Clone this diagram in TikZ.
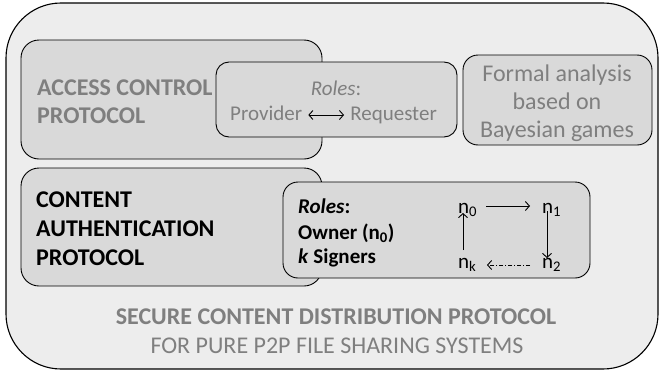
\documentclass[tikz,border=0pt]{standalone}
\usepackage{fontspec}
\setmainfont{Carlito}
\usetikzlibrary{arrows.meta}
\definecolor{outerfill}{HTML}{EDEDED}
\definecolor{innerfill}{HTML}{D9D9D9}
\definecolor{greytext}{HTML}{7F7F7F}
\begin{document}
\begin{tikzpicture}[x=1pt,y=-1pt,
  panel/.style={draw=black, line width=0.9pt, fill=innerfill, inner sep=0pt},
  lbl/.style={inner sep=0pt, anchor=base west},
  clbl/.style={inner sep=0pt, anchor=base},
  headfont/.style={font=\fontsize{24}{29}\selectfont\bfseries},
  rolefont/.style={font=\fontsize{21}{24}\selectfont},
  formalfont/.style={font=\fontsize{24}{28}\selectfont},
  footfont/.style={font=\fontsize{24}{28}\selectfont},
  footboldfont/.style={font=\fontsize{24}{28}\selectfont\bfseries},
  ownerfont/.style={font=\fontsize{21}{24}\selectfont\bfseries},
  ringfont/.style={font=\fontsize{21}{24}\selectfont},
  arr/.style={line width=0.9pt, -{Straight Barb[length=4pt,width=9pt]}},
  dblarr/.style={line width=0.9pt, {Straight Barb[length=4pt,width=9pt]}-{Straight Barb[length=4pt,width=9pt]}},
]
\useasboundingbox (0,0) rectangle (660,372);

% outer frame: the whole distribution protocol (true circular corners)
\draw[line width=1.1pt, fill=outerfill]
  (6,58) arc[start angle=180, end angle=270, radius=55]
  -- (603,3) arc[start angle=270, end angle=360, radius=55]
  -- (658,314) arc[start angle=0, end angle=90, radius=55]
  -- (61,369) arc[start angle=90, end angle=180, radius=55]
  -- cycle;

% access control protocol
\node[panel, rounded corners=18pt, minimum width=301pt, minimum height=119pt] (access) at (171.5,99.5) {};
\node[lbl, headfont, text=greytext] (acc1) at (37,95) {ACCESS CONTROL};
\node[lbl, headfont, text=greytext] (acc2) at (37,123) {PROTOCOL};

% roles of the access control protocol
\node[panel, rounded corners=13pt, minimum width=241pt, minimum height=75pt] (rolesA) at (336.5,99.5) {};
\node[clbl, rolefont, text=greytext] (rolesAhead) at (336,95) {\textit{Roles}:};
\node[lbl, rolefont, text=greytext] (prov) at (230,120) {Provider};
\node[anchor=base east, inner sep=0pt, rolefont, text=greytext] (req) at (437,120) {Requester};
\draw[dblarr] ([shift={(6pt,5pt)}]prov.base east) -- ([shift={(-6pt,5pt)}]req.base west);

% formal analysis
\node[panel, rounded corners=15pt, minimum width=189pt, minimum height=90pt] (formal) at (557.5,100) {};
\node[clbl, formalfont, text=greytext] (f1) at (557,81) {Formal analysis};
\node[clbl, formalfont, text=greytext] (f2) at (557,109) {based on};
\node[clbl, formalfont, text=greytext] (f3) at (557,137) {Bayesian games};

% content authentication protocol
\node[panel, rounded corners=18pt, minimum width=301pt, minimum height=118pt] (content) at (171.5,227) {};
\node[lbl, headfont] (con1) at (36,207) {CONTENT};
\node[lbl, headfont] (con2) at (36,236) {AUTHENTICATION};
\node[lbl, headfont] (con3) at (36,265) {PROTOCOL};

% roles of the content authentication protocol
\node[panel, rounded corners=15pt, minimum width=307pt, minimum height=96pt] (rolesC) at (436.5,230) {};
\node[lbl, ownerfont] (rc1) at (298,213) {\textit{Roles}:};
\node[lbl, ownerfont] (rc2) at (298,239) {Owner (n\textsubscript{0})};
\node[lbl, ownerfont] (rc3) at (298,263) {\textit{k} Signers};

% signing ring
\node[lbl, ringfont] (n0) at (458,213) {n\textsubscript{0}};
\node[lbl, ringfont] (n1) at (542,213) {n\textsubscript{1}};
\node[lbl, ringfont] (nk) at (458,268) {n\textsubscript{k}};
\node[lbl, ringfont] (n2) at (542,268) {n\textsubscript{2}};
\draw[arr] ([shift={(28pt,7pt)}]n0.base west) -- ([shift={(-12pt,7pt)}]n1.base west);
\draw[arr] ([shift={(5pt,2pt)}]n1.base west) -- ([shift={(5pt,10pt)}]n2.base west);
\draw[arr, dash pattern=on 4pt off 2pt on 1pt off 2pt] ([shift={(-12pt,3pt)}]n2.base west) -- ([shift={(29pt,3pt)}]nk.base west);
\draw[arr] ([shift={(5pt,18pt)}]nk.base west) -- ([shift={(5pt,0pt)}]n0.base west);

% title of the whole scheme
\node[clbl, footboldfont, text=greytext] (title1) at (336,324) {SECURE CONTENT DISTRIBUTION PROTOCOL};
\node[clbl, footfont, text=greytext] (title2) at (337,353) {FOR PURE P2P FILE SHARING SYSTEMS};
\end{tikzpicture}
\end{document}
